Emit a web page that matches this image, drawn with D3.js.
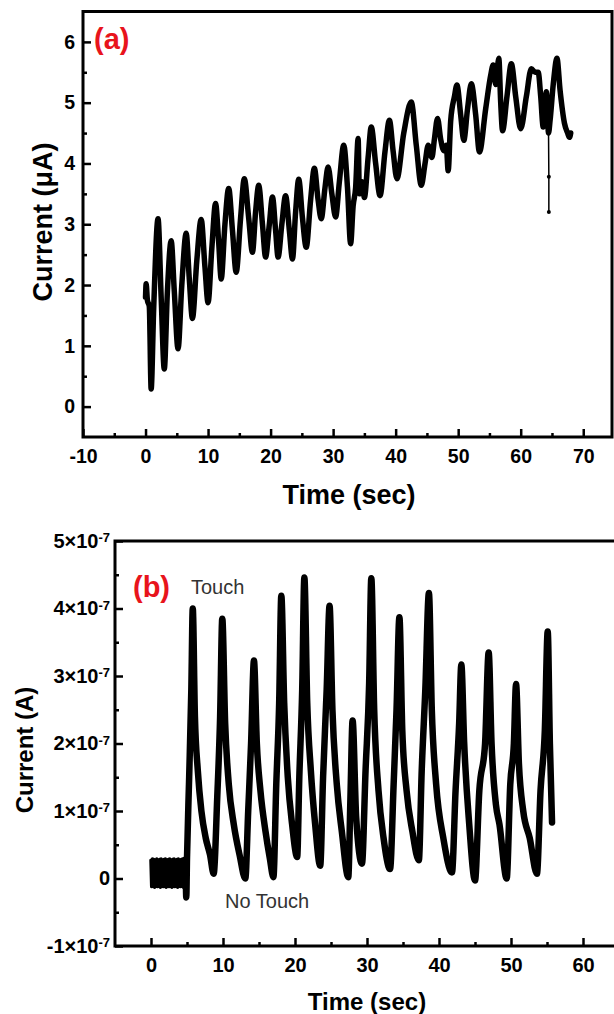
<!DOCTYPE html>
<html>
<head>
<meta charset="utf-8">
<script src="https://cdn.jsdelivr.net/npm/d3@7"></script>
<style>
body { margin: 0; background: #fff; }
svg { display: block; }
</style>
</head>
<body>
<div id="chart"></div>
<script>
// panel (a): current (uA) against time (sec)
const timeTicksA = [-10, 0, 10, 20, 30, 40, 50, 60, 70];
const currentTicksA = [0, 1, 2, 3, 4, 5, 6];

const currentA = [
    [0.0, 1.80], [0.1, 2.02], [0.3, 1.75], [0.6, 1.65], [0.9, 0.29], [1.3, 1.60],
    [2.0, 3.09], [2.5, 1.80], [3.0, 0.62], [3.5, 1.90], [4.1, 2.73], [4.6, 1.90],
    [5.2, 0.95], [5.8, 2.00], [6.5, 2.85], [7.0, 2.10], [7.5, 1.45], [8.2, 2.40],
    [8.9, 3.08], [9.5, 2.30], [10.0, 1.71], [10.6, 2.60], [11.2, 3.34], [11.7, 2.70],
    [12.1, 2.10], [12.7, 3.00], [13.3, 3.59], [13.9, 2.90], [14.5, 2.21], [15.2, 3.10],
    [15.8, 3.75], [16.5, 3.10], [17.1, 2.54], [17.6, 3.20], [18.1, 3.64], [18.7, 3.00],
    [19.2, 2.46], [19.8, 3.00], [20.3, 3.45], [20.8, 2.90], [21.2, 2.46], [21.8, 3.00],
    [22.4, 3.47], [23.0, 2.90], [23.5, 2.43], [24.0, 3.20], [24.5, 3.74], [25.1, 3.10],
    [25.7, 2.62], [26.4, 3.40], [27.0, 3.92], [27.6, 3.40], [28.1, 3.09], [28.7, 3.60],
    [29.2, 3.94], [29.8, 3.50], [30.4, 3.12], [31.0, 3.70], [31.7, 4.30], [32.3, 3.60],
    [32.8, 2.68], [33.2, 3.30], [33.6, 3.60], [34.0, 4.41], [34.2, 3.50], [34.6, 3.70],
    [35.0, 3.44], [35.6, 4.10], [36.1, 4.60], [36.8, 4.00], [37.5, 3.47], [38.3, 4.20],
    [39.0, 4.71], [39.6, 4.20], [40.2, 3.75], [41.3, 4.50], [42.5, 5.01], [43.3, 4.30],
    [44.1, 3.64], [44.7, 4.00], [45.2, 4.30], [45.8, 4.10], [46.2, 4.40], [46.7, 4.74],
    [47.2, 4.40], [47.7, 4.21], [48.1, 4.30], [48.4, 3.88], [48.8, 4.70], [49.4, 5.10],
    [49.8, 5.29], [50.4, 4.80], [50.9, 4.38], [51.5, 4.90], [52.1, 5.31], [52.8, 4.80],
    [53.4, 4.19], [54.4, 4.90], [55.2, 5.45], [55.6, 5.62], [56.0, 5.30], [56.5, 5.73],
    [56.8, 5.00], [57.1, 4.54], [57.8, 5.10], [58.5, 5.64], [59.2, 5.10], [60.0, 4.57],
    [60.9, 5.10], [61.7, 5.56], [62.3, 5.50], [62.8, 5.50], [63.2, 5.10], [63.6, 4.60],
    [64.1, 5.18], [64.45, 4.50], [64.7, 4.71], [65.2, 5.30], [65.8, 5.73], [66.3, 5.20],
    [67.0, 4.66], [67.5, 4.50], [67.8, 4.43], [68.0, 4.50]
];

// the thin drop near 64.5 s
const spikeA = [[64.45, 4.50], [64.5, 3.78], [64.5, 3.20]];

// panel (b): current in units of 1e-7 A against time (sec)
const timeTicksB = [0, 10, 20, 30, 40, 50, 60];
const currentTicksB = [-1, 0, 1, 2, 3, 4, 5];

const noTouchB = [
    [0.0, 0.27], [0.1, -0.12], [0.2, 0.29], [0.3, -0.10], [0.4, 0.28], [0.5, -0.13],
    [0.6, 0.26], [0.7, -0.11], [0.8, 0.29], [0.9, -0.12], [1.0, 0.27], [1.1, -0.10],
    [1.2, 0.28], [1.3, -0.13], [1.4, 0.29], [1.5, -0.11], [1.6, 0.26], [1.7, -0.12],
    [1.8, 0.28], [1.9, -0.10], [2.0, 0.29], [2.1, -0.13], [2.2, 0.27], [2.3, -0.11],
    [2.4, 0.28], [2.5, -0.12], [2.6, 0.29], [2.7, -0.10], [2.8, 0.26], [2.9, -0.13],
    [3.0, 0.28], [3.1, -0.11], [3.2, 0.29], [3.3, -0.12], [3.4, 0.27], [3.5, -0.10],
    [3.6, 0.28], [3.7, -0.13], [3.8, 0.29], [3.9, -0.11], [4.0, 0.26], [4.1, -0.12],
    [4.2, 0.28], [4.3, -0.10], [4.4, 0.29], [4.5, -0.13], [4.6, 0.27], [4.7, -0.11],
    [4.8, 0.28]
];

const touchB = [
    [4.8, 0.28], [4.9, -0.28], [5.0, 0.30], [5.3, 1.50], [5.6, 2.80], [5.8, 4.00],
    [6.1, 2.40], [6.5, 1.60], [7.0, 1.00], [7.6, 0.60], [8.2, 0.35], [8.7, 0.07],
    [9.2, 1.20], [9.6, 2.40], [9.9, 3.85], [10.3, 2.30], [10.8, 1.40], [11.5, 0.80],
    [12.3, 0.35], [13.1, 0.00], [13.5, 1.00], [13.9, 2.00], [14.3, 3.23], [14.7, 2.00],
    [15.2, 1.30], [15.9, 0.70], [16.5, 0.30], [17.0, 0.02], [17.4, 1.40], [17.8, 2.60],
    [18.1, 4.19], [18.5, 2.60], [19.0, 1.50], [19.6, 0.80], [20.3, 0.32], [20.6, 1.50],
    [21.0, 2.80], [21.3, 4.46], [21.7, 2.60], [22.2, 1.60], [22.8, 0.80], [23.5, 0.19],
    [23.9, 1.50], [24.4, 2.80], [24.8, 4.04], [25.2, 2.50], [25.8, 1.40], [26.5, 0.70],
    [27.4, 0.02], [27.7, 1.20], [28.0, 2.34], [28.5, 0.90], [29.3, 0.22], [29.8, 1.60],
    [30.3, 2.90], [30.6, 4.45], [31.0, 2.50], [31.6, 1.30], [32.3, 0.60], [33.2, 0.14],
    [33.7, 1.40], [34.1, 2.50], [34.5, 3.87], [34.9, 2.20], [35.5, 1.30], [36.3, 0.70],
    [37.2, 0.27], [37.6, 1.60], [38.1, 2.80], [38.6, 4.23], [39.0, 2.50], [39.6, 1.40],
    [40.6, 0.60], [41.8, 0.09], [42.3, 1.30], [42.8, 2.30], [43.1, 3.17], [43.5, 2.00],
    [44.2, 0.80], [45.0, -0.03], [45.6, 1.30], [46.4, 2.00], [46.9, 3.35], [47.3, 2.00],
    [47.9, 1.10], [48.4, 0.80], [49.4, 0.00], [49.9, 1.40], [50.4, 2.00], [50.7, 2.88],
    [51.1, 1.70], [51.7, 1.00], [52.6, 0.60], [53.6, 0.07], [54.1, 1.30], [54.7, 2.20],
    [55.1, 3.66], [55.4, 2.00], [55.7, 0.83]
];

const FONT = "Arial, 'Liberation Sans', sans-serif";

let svg = d3.select("#chart").
append("svg").
attr("width", 614).
attr("height", 1014);

function midpoints(ticks) {
    return d3.pairs(ticks).map(p => (p[0] + p[1]) / 2);
}

// inward ticks on bottom and left, plus a closed frame
function drawFrame(x, y, xTicks, yTicks, cfg) {
    let [left, right] = x.range();
    let [bottom, top] = y.range();

    let g = svg.append("g");

    g.append("g").
    attr("transform", "translate(0," + bottom + ")").
    call(d3.axisBottom(x).tickValues(midpoints(xTicks)).tickFormat("").tickSizeInner(-4).tickSizeOuter(0));

    g.append("g").
    attr("transform", "translate(" + left + ",0)").
    call(d3.axisLeft(y).tickValues(midpoints(yTicks)).tickFormat("").tickSizeInner(-4).tickSizeOuter(0));

    let xAxis = g.append("g").
    attr("transform", "translate(0," + bottom + ")").
    call(d3.axisBottom(x).tickValues(xTicks).tickSizeInner(-8).tickSizeOuter(0).tickPadding(cfg.xPad).tickFormat(d => String(d)));

    let yAxis = g.append("g").
    attr("transform", "translate(" + left + ",0)").
    call(d3.axisLeft(y).tickValues(yTicks).tickSizeInner(-8).tickSizeOuter(0).tickPadding(cfg.yPad).tickFormat(d => String(d)));

    g.selectAll(".domain").remove();
    g.selectAll(".tick line").attr("stroke", "#000").attr("stroke-width", 2.5);
    g.selectAll(".tick text").
    attr("font-family", FONT).
    attr("font-weight", "bold").
    attr("font-size", cfg.tickFont).
    attr("fill", "#000");

    g.append("rect").
    attr("x", left).
    attr("y", top).
    attr("width", right - left).
    attr("height", bottom - top).
    attr("fill", "none").
    attr("stroke", "#000").
    attr("stroke-width", 3);

    return { xAxis, yAxis };
}

function drawTrace(x, y, data, width, curve) {
    svg.append("path").
    datum(data).
    attr("fill", "none").
    attr("stroke", "#000").
    attr("stroke-width", width).
    attr("stroke-linejoin", "round").
    attr("stroke-linecap", "round").
    attr("d", d3.line().curve(curve || d3.curveLinear).x(d => x(d[0])).y(d => y(d[1])));
}

function label(x, y, txt, size, opts) {
    let t = svg.append("text").
    attr("x", x).
    attr("y", y).
    attr("font-family", FONT).
    attr("font-size", size).
    attr("font-weight", opts.weight || "bold").
    attr("fill", opts.fill || "#000").
    attr("text-anchor", opts.anchor || "start").
    text(txt);
    if (opts.rotate) {
        t.attr("transform", "rotate(-90," + x + "," + y + ")");
    }
    return t;
}

// ---------- panel (a) ----------
let xA = d3.scaleLinear().domain([-10, 74.6]).range([83, 612]);
let yA = d3.scaleLinear().domain([-0.5, 6.5]).range([437, 11.5]);

drawFrame(xA, yA, timeTicksA, currentTicksA, { xPad: 12, yPad: 8, tickFont: 19.5 });
drawTrace(xA, yA, currentA, 5.5, d3.curveMonotoneX);
drawTrace(xA, yA, spikeA, 1.5);

svg.selectAll(".spike-dot").
data(spikeA.slice(1)).
enter().
append("circle").
attr("cx", d => xA(d[0])).
attr("cy", d => yA(d[1])).
attr("r", 2).
attr("fill", "#000");

label(349, 504, "Time (sec)", 27, { anchor: "middle" });
label(52, 222, "Current (\u03bcA)", 27, { anchor: "middle", rotate: true });
label(94, 49, "(a)", 29, { fill: "#e8141c" });

// ---------- panel (b) ----------
let xB = d3.scaleLinear().domain([-5, 65]).range([115, 619]);
let yB = d3.scaleLinear().domain([-1, 5]).range([946, 541]);

let axesB = drawFrame(xB, yB, timeTicksB, currentTicksB, { xPad: 12, yPad: 5, tickFont: 20 });

// tick labels as N x 10^-7
axesB.yAxis.selectAll(".tick text").each(function (d) {
    let t = d3.select(this);
    t.text(null);
    if (d === 0) {
        t.text("0");
        return;
    }
    t.append("tspan").text(d + "\u00d710");
    t.append("tspan").attr("dy", "-0.45em").attr("font-size", 13).text("-7");
});

drawTrace(xB, yB, noTouchB, 3.5);
drawTrace(xB, yB, touchB, 6.5, d3.curveMonotoneX);

label(367, 1010, "Time (sec)", 24, { anchor: "middle" });
label(33, 750, "Current (A)", 24, { anchor: "middle", rotate: true });
label(133, 597, "(b)", 29, { fill: "#e8141c" });
label(191, 594, "Touch", 20, { weight: "normal", fill: "#333" });
label(225, 908, "No Touch", 20, { weight: "normal", fill: "#333" });
</script>
</body>
</html>
